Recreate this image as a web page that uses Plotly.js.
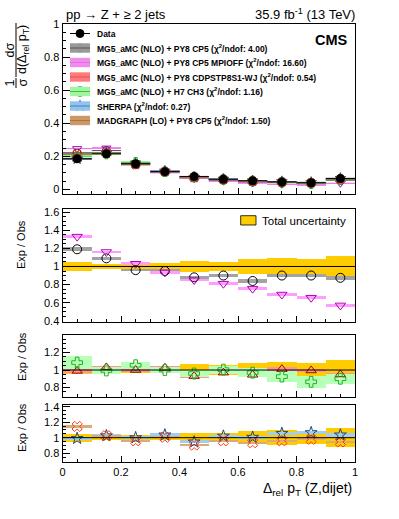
<!DOCTYPE html>
<html><head><meta charset="utf-8">
<script src="https://cdn.plot.ly/plotly-3.0.1.min.js"></script>
<style>html,body{margin:0;padding:0;background:#fff;}#chart{width:399px;height:519px;}</style>
</head><body><div id="chart"></div>
<script>
// ---------- data ----------
const binCenters = [0.05, 0.15, 0.25, 0.35, 0.45, 0.55, 0.65, 0.75, 0.85, 0.95];
const binWidth = 0.1;
const dataValues = [0.185, 0.215, 0.155, 0.107, 0.078, 0.061, 0.052, 0.045, 0.040, 0.065];
const dataErrors = [0.006, 0.006, 0.005, 0.004, 0.003, 0.003, 0.003, 0.003, 0.003, 0.004];
const totalUnc = [0.05, 0.025, 0.03, 0.035, 0.065, 0.055, 0.08, 0.095, 0.085, 0.12];

const ratioCP5 = [1.19, 1.09, 0.96, 0.95, 0.88, 0.90, 0.84, 0.90, 0.90, 0.875];
const errCP5 = [0.02, 0.02, 0.015, 0.02, 0.015, 0.02, 0.02, 0.02, 0.02, 0.02];
const ratioMPIOFF = [1.33, 1.16, 1.03, 0.935, 0.85, 0.81, 0.755, 0.69, 0.655, 0.57];
const errMPIOFF = [0.015, 0.015, 0.015, 0.015, 0.015, 0.015, 0.015, 0.015, 0.015, 0.015];
const ratioCDPSTP = [0.99, 1.03, 1.00, 1.025, 0.93, 0.97, 0.945, 1.01, 0.995, 0.95];
const errCDPSTP = [0.02, 0.02, 0.02, 0.02, 0.02, 0.02, 0.02, 0.02, 0.02, 0.02];
const ratioH7 = [1.085, 0.995, 1.055, 1.00, 0.96, 1.005, 0.97, 0.925, 0.865, 0.90];
const errH7 = [0.07, 0.035, 0.04, 0.035, 0.04, 0.045, 0.05, 0.06, 0.07, 0.055];
const ratioSHERPA = [0.99, 1.025, 1.00, 1.035, 0.945, 1.02, 1.005, 1.055, 1.065, 1.035];
const errSHERPA = [0.02, 0.02, 0.02, 0.02, 0.02, 0.02, 0.02, 0.02, 0.02, 0.02];
const ratioMG = [1.145, 1.025, 0.96, 1.005, 0.905, 0.96, 0.935, 0.96, 0.98, 0.945];
const errMG = [0.015, 0.015, 0.015, 0.015, 0.015, 0.015, 0.015, 0.015, 0.015, 0.015];

const modelNames = [
  'MG5_aMC (NLO) + PY8 CP5 (χ<sup>2</sup>/ndof: 4.00)',
  'MG5_aMC (NLO) + PY8 CP5 MPIOFF (χ<sup>2</sup>/ndof: 16.60)',
  'MG5_aMC (NLO) + PY8 CDPSTP8S1-WJ (χ<sup>2</sup>/ndof: 0.54)',
  'MG5_aMC (NLO) + H7 CH3 (χ<sup>2</sup>/ndof: 1.16)',
  'SHERPA (χ<sup>2</sup>/ndof: 0.27)',
  'MADGRAPH (LO) + PY8 CP5 (χ<sup>2</sup>/ndof: 1.50)'
];
const modelRatios = [ratioCP5, ratioMPIOFF, ratioCDPSTP, ratioH7, ratioSHERPA, ratioMG];
const modelErrors = [errCP5, errMPIOFF, errCDPSTP, errH7, errSHERPA, errMG];
const modelPanels = [2, 2, 3, 3, 4, 4];
const bandColors = ['#a3a3a3', '#ff9cff', '#ff9494', '#b8ffb8', '#a3cdf0', '#d9aa7a'];
const legendBoxColors = ['#999999', '#f08cf0', '#ff7a7a', '#a0f5a0', '#8fc3f0', '#cc9966'];
const lineColors = ['#555555', '#e070e0', '#e05050', '#40c040', '#4a7fb5', '#b07040'];
const markerColors = ['#000000', '#b000b0', '#a00000', '#22b022', '#1f4a7a', '#ff3a10'];
const markerSymbols = ['circle-open', 'triangle-down-open', 'triangle-up-open', 'cross-open', 'star-open', 'x-open'];

// ---------- layout helpers ----------
const W = 399, H = 519;
const xd = [62.5 / W, 355 / W];
const yd = (top, bot) => [1 - bot / H, 1 - top / H];
const FONT = 'Liberation Sans, Arial, Helvetica, sans-serif';

const traces = [];
const xs = ['x', 'x2', 'x3', 'x4'];
const ys = ['y', 'y2', 'y3', 'y4'];

// total uncertainty bands in ratio panels
for (let p = 1; p < 4; p++) {
  traces.push({
    type: 'bar', x: binCenters, y: totalUnc.map(u => 2 * u), base: totalUnc.map(u => 1 - u),
    width: binWidth, marker: {color: '#ffcc00', line: {width: 0}},
    xaxis: xs[p], yaxis: ys[p], showlegend: false, hoverinfo: 'skip'
  });
}

// models
modelRatios.forEach((r, m) => {
  const e = modelErrors[m];
  const pi = modelPanels[m] - 1;
  traces.push({
    type: 'bar', x: binCenters, y: e.map(v => 2 * v), base: r.map((v, i) => v - e[i]),
    width: binWidth, marker: {color: bandColors[m], line: {width: 0}},
    xaxis: xs[pi], yaxis: ys[pi], showlegend: false
  });
  const mv = r.map((v, i) => v * dataValues[i]);
  const me = e.map((v, i) => Math.max(v * dataValues[i], 0.004));
  traces.push({
    type: 'bar', x: binCenters, y: me.map(v => 2 * v), base: mv.map((v, i) => v - me[i]),
    width: binWidth, marker: {color: bandColors[m], line: {width: 0}},
    xaxis: 'x', yaxis: 'y', showlegend: false
  });
});
modelRatios.forEach((r, m) => {
  const pi = modelPanels[m] - 1;
  const mv = r.map((v, i) => v * dataValues[i]);
  traces.push({
    type: 'scatter', mode: 'markers', x: binCenters, y: mv,
    marker: {symbol: markerSymbols[m], size: 8, color: markerColors[m], line: {width: 1, color: markerColors[m]}},
    error_x: {type: 'constant', value: binWidth / 2, width: 0, thickness: 1, color: lineColors[m]},
    xaxis: 'x', yaxis: 'y', showlegend: false
  });
  traces.push({
    type: 'scatter', mode: 'markers', x: binCenters, y: r,
    marker: {symbol: markerSymbols[m], size: 9, color: markerColors[m], line: {width: 1, color: markerColors[m]}},
    xaxis: xs[pi], yaxis: ys[pi], showlegend: false
  });
});
// data
traces.push({
  type: 'scatter', mode: 'markers', x: binCenters, y: dataValues,
  marker: {symbol: 'circle', size: 9, color: '#000'},
  error_x: {type: 'constant', value: binWidth / 2, width: 0, thickness: 1, color: '#000'},
  error_y: {type: 'data', array: dataErrors, width: 0, thickness: 1, color: '#000'},
  xaxis: 'x', yaxis: 'y', showlegend: false
});

// ---------- hand-made legend (pixel coordinates on an overlay axis) ----------
const legNames = ['Data'].concat(modelNames);
const legSymbols = ['circle'].concat(markerSymbols);
const legColors = ['#000000'].concat(markerColors);
const legY = legNames.map((_, i) => 33.5 + i * 14.5);
const legX = legNames.map(() => 80);
const shapes = [];
const annotations = [];
legNames.forEach((n, i) => {
  if (i > 0) {
    shapes.push({type: 'rect', xref: 'x5', yref: 'y5', x0: 70, x1: 90, y0: legY[i] - 4.7, y1: legY[i] + 4.7,
      fillcolor: legendBoxColors[i - 1], line: {width: 0}, layer: 'above'});
  }
  shapes.push({type: 'line', xref: 'x5', yref: 'y5', x0: 70, x1: 90, y0: legY[i], y1: legY[i],
    line: {color: i === 0 ? '#000' : lineColors[i - 1], width: 1}, layer: 'above'});
  annotations.push({xref: 'x5', yref: 'y5', x: 94.5, y: legY[i], xanchor: 'left', yanchor: 'middle',
    text: '<b>' + n + '</b>', showarrow: false, font: {family: FONT, size: 8.5, color: '#000'}});
});
traces.push({
  type: 'scatter', mode: 'markers', x: legX, y: legY, xaxis: 'x5', yaxis: 'y5',
  marker: {symbol: legSymbols, size: 8, color: legColors, line: {width: 1, color: legColors}},
  showlegend: false, hoverinfo: 'skip'
});

// total uncertainty legend
shapes.push({type: 'rect', xref: 'x5', yref: 'y5', x0: 240.7, x1: 256, y0: 215.7, y1: 225,
  fillcolor: '#ffcc00', line: {color: '#000', width: 0.8}, layer: 'above'});
annotations.push({xref: 'x5', yref: 'y5', x: 259.5, y: 220.5, xanchor: 'left', yanchor: 'middle',
  text: 'Total uncertainty', showarrow: false, font: {family: FONT, size: 11.5, color: '#000'}});

// reference lines at 1
for (let p = 1; p < 4; p++) {
  shapes.push({type: 'line', xref: xs[p], yref: ys[p], x0: 0, x1: 1, y0: 1, y1: 1,
    line: {color: '#000', width: 1}, layer: 'above'});
}

// titles and labels
const txt = (x, y, text, size, xanchor, extra) => Object.assign({xref: 'x5', yref: 'y5', x: x, y: y,
  text: text, showarrow: false, xanchor: xanchor || 'center', yanchor: 'middle',
  font: {family: FONT, size: size, color: '#000'}}, extra || {});
annotations.push(txt(64, 14, 'pp → Z + ≥ 2 jets', 13, 'left'));
annotations.push(txt(357, 14, '35.9 fb<sup>-1</sup> (13 TeV)', 13, 'right'));
annotations.push(txt(350, 40, '<b>CMS</b>', 14.5, 'right'));
annotations.push(txt(354, 489, 'Δ<sub>rel</sub> p<sub>T</sub> (Z,dijet)', 14, 'right'));
annotations.push(txt(21, 245, 'Exp / Obs', 11, 'center', {textangle: -90}));
annotations.push(txt(22, 357, 'Exp / Obs', 11, 'center', {textangle: -90}));
annotations.push(txt(22, 428, 'Exp / Obs', 11, 'center', {textangle: -90}));
// fraction y title
annotations.push(txt(9.5, 83, '1', 12.5, 'center', {textangle: -90}));
annotations.push(txt(22.5, 83, 'σ', 12.5, 'center', {textangle: -90}));
annotations.push(txt(9.5, 50, 'dσ', 12.5, 'center', {textangle: -90}));
annotations.push(txt(23, 50, 'd(Δ<sub>rel</sub> p<sub>T</sub>)', 12.5, 'center', {textangle: -90}));
shapes.push({type: 'line', xref: 'x5', yref: 'y5', x0: 16, x1: 16, y0: 78, y1: 88, line: {color: '#000', width: 1}});
shapes.push({type: 'line', xref: 'x5', yref: 'y5', x0: 16, x1: 16, y0: 23, y1: 77, line: {color: '#000', width: 1}});

// ---------- axes ----------
const tickFont = {family: FONT, size: 11, color: '#000'};
const xBase = () => ({domain: xd, range: [0, 1], showline: true, mirror: true, linecolor: '#000', linewidth: 1,
  ticks: 'inside', ticklen: 6, tickcolor: '#000', tick0: 0, dtick: 0.2,
  minor: {dtick: 0.05, ticklen: 3, ticks: 'inside', tickcolor: '#000'},
  showgrid: false, zeroline: false, fixedrange: true, showticklabels: false, tickfont: tickFont});
const yBase = (dom, rng) => ({domain: dom, range: rng, showline: true, mirror: true, linecolor: '#000', linewidth: 1,
  ticks: 'inside', ticklen: 7, tickcolor: '#000', tick0: 0, dtick: 0.2,
  minor: {dtick: 0.05, ticklen: 3.5, ticks: 'inside', tickcolor: '#000'},
  showgrid: false, zeroline: false, fixedrange: true, tickfont: tickFont});

const layout = {
  width: W, height: H, margin: {l: 0, r: 0, t: 0, b: 0, pad: 0},
  paper_bgcolor: '#fff', plot_bgcolor: 'rgba(0,0,0,0)', barmode: 'overlay', bargap: 0,
  showlegend: false, font: {family: FONT, color: '#000'},
  xaxis: Object.assign(xBase(), {anchor: 'y'}),
  xaxis2: Object.assign(xBase(), {anchor: 'y2'}),
  xaxis3: Object.assign(xBase(), {anchor: 'y3'}),
  xaxis4: Object.assign(xBase(), {anchor: 'y4', showticklabels: true}),
  yaxis: Object.assign(yBase(yd(24, 194.3), [-0.03, 1.0]), {anchor: 'x'}),
  yaxis2: Object.assign(yBase(yd(209, 321.7), [0.39, 1.635]), {anchor: 'x2'}),
  yaxis3: Object.assign(yBase(yd(335.3, 396.7), [0.695, 1.397]), {anchor: 'x3'}),
  yaxis4: Object.assign(yBase(yd(405.3, 461.7), [0.69, 1.418]), {anchor: 'x4'}),
  xaxis5: {domain: [0, 1], range: [0, W], visible: false, fixedrange: true, anchor: 'y5'},
  yaxis5: {domain: [0, 1], range: [H, 0], visible: false, fixedrange: true, anchor: 'x5'},
  shapes: shapes, annotations: annotations
};

Plotly.newPlot('chart', traces, layout, {staticPlot: true, displayModeBar: false});
</script></body></html>
